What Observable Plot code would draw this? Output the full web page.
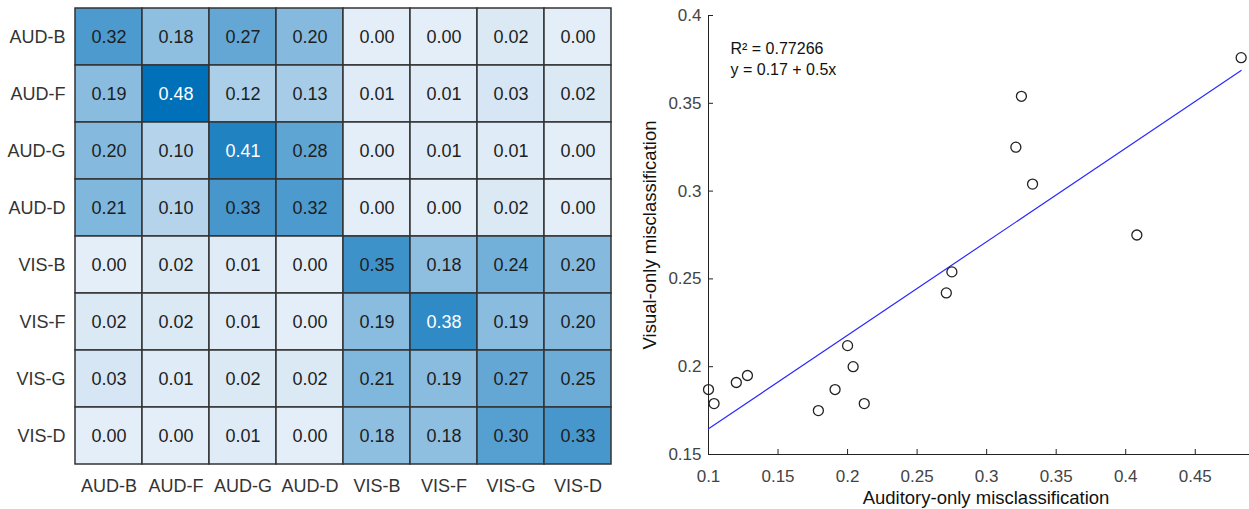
<!DOCTYPE html>
<html>
<head>
<meta charset="utf-8">
<script src="https://cdn.jsdelivr.net/npm/d3@7"></script>
<script src="https://cdn.jsdelivr.net/npm/@observablehq/plot@0.6"></script>
<style>
  html, body { margin: 0; padding: 0; background: #fff; overflow: hidden; }
  #wrap { position: relative; width: 1249px; height: 509px; overflow: hidden; }
  #heat { position: absolute; left: -12px; top: 0; }
  #scatter { position: absolute; left: 630px; top: 0; }
</style>
</head>
<body>
<div id="wrap"><div id="heat"></div><div id="scatter"></div></div>
<script>
// Stimulus classes (rows = presented, columns = responded)
const classes = ["AUD-B", "AUD-F", "AUD-G", "AUD-D", "VIS-B", "VIS-F", "VIS-G", "VIS-D"];

// Confusion proportions, one row per class
const rowAUD_B = [0.32, 0.18, 0.27, 0.20, 0.00, 0.00, 0.02, 0.00];
const rowAUD_F = [0.19, 0.48, 0.12, 0.13, 0.01, 0.01, 0.03, 0.02];
const rowAUD_G = [0.20, 0.10, 0.41, 0.28, 0.00, 0.01, 0.01, 0.00];
const rowAUD_D = [0.21, 0.10, 0.33, 0.32, 0.00, 0.00, 0.02, 0.00];
const rowVIS_B = [0.00, 0.02, 0.01, 0.00, 0.35, 0.18, 0.24, 0.20];
const rowVIS_F = [0.02, 0.02, 0.01, 0.00, 0.19, 0.38, 0.19, 0.20];
const rowVIS_G = [0.03, 0.01, 0.02, 0.02, 0.21, 0.19, 0.27, 0.25];
const rowVIS_D = [0.00, 0.00, 0.01, 0.00, 0.18, 0.18, 0.30, 0.33];
const confusion = [rowAUD_B, rowAUD_F, rowAUD_G, rowAUD_D, rowVIS_B, rowVIS_F, rowVIS_G, rowVIS_D];

// Per-participant misclassification rates
const auditoryMiscl = [0.100, 0.104, 0.120, 0.128, 0.179, 0.191, 0.200, 0.204,
                       0.212, 0.271, 0.275, 0.321, 0.325, 0.333, 0.408, 0.483];
const visualMiscl   = [0.187, 0.179, 0.191, 0.195, 0.175, 0.187, 0.212, 0.200,
                       0.179, 0.242, 0.254, 0.325, 0.354, 0.304, 0.275, 0.376];

// Axis ticks of the scatter plot
const xTicks = [0.1, 0.15, 0.2, 0.25, 0.3, 0.35, 0.4, 0.45];
const yTicks = [0.15, 0.2, 0.25, 0.3, 0.35, 0.4];

const fitText = "R\u00B2 = 0.77266\ny = 0.17 + 0.5x";

const font = "'Liberation Sans', Arial, Helvetica, sans-serif";
const fmt = d => String(+d.toFixed(2));

// ---- Confusion heatmap ----
const cells = confusion.flatMap((row, i) => row.map((v, j) => ({row: classes[i], col: classes[j], v})));

const heat = Plot.plot({
  width: 626,
  height: 509,
  marginLeft: 85,
  marginRight: 1,
  marginTop: 6,
  marginBottom: 43,
  style: {fontFamily: font, fontSize: "18px", color: "#333", background: "transparent", overflow: "visible"},
  x: {domain: classes, padding: 0, label: null, tickSize: 0, tickPadding: 13},
  y: {domain: classes, padding: 0, label: null, tickSize: 0, tickPadding: 8},
  color: {type: "linear", domain: [0, 0.48], range: ["#e4eef8", "#0070b9"]},
  marks: [
    Plot.cell(cells, {x: "col", y: "row", fill: "v", stroke: "#333", strokeWidth: 1.5}),
    Plot.text(cells, {filter: d => d.v <= 0.36, x: "col", y: "row", text: d => d.v.toFixed(2), fill: "#1e1e1e", fontSize: 18}),
    Plot.text(cells, {filter: d => d.v > 0.36, x: "col", y: "row", text: d => d.v.toFixed(2), fill: "#ffffff", fontSize: 18})
  ]
});
document.getElementById("heat").appendChild(heat);

// ---- Auditory vs visual misclassification scatter ----
const pts = auditoryMiscl.map((x, i) => ({x, y: visualMiscl[i]}));

const scatter = Plot.plot({
  width: 619,
  height: 509,
  marginLeft: 78,
  marginRight: 0,
  marginTop: 15,
  marginBottom: 55,
  style: {fontFamily: font, fontSize: "17px", color: "#333", background: "transparent", overflow: "visible"},
  x: {domain: [0.1, 0.489]},
  y: {domain: [0.15, 0.4]},
  marks: [
    Plot.ruleX([0.1], {stroke: "#222"}),
    Plot.ruleY([0.15], {stroke: "#222"}),
    Plot.axisX({ticks: xTicks, tickFormat: fmt, tickSize: -5, tickPadding: 20, label: null, stroke: "#222", fill: "#444"}),
    Plot.axisY({ticks: yTicks, tickFormat: fmt, tickSize: -5, tickPadding: 12, label: null, stroke: "#222", fill: "#444"}),
    Plot.linearRegressionY(pts, {x: "x", y: "y", stroke: "#2a2aff", strokeWidth: 1.2, ci: 0}),
    Plot.dot(pts, {x: "x", y: "y", r: 5, stroke: "#222", strokeWidth: 1.3, fill: "none"}),
    Plot.text([fitText], {frameAnchor: "top-left", dx: 22, dy: 24, textAnchor: "start", lineAnchor: "top", lineHeight: 1.3, fontSize: 16, fill: "#111"}),
    Plot.text(["Auditory-only misclassification"], {frameAnchor: "bottom", dx: 7, dy: 44, lineAnchor: "middle", fontSize: 18.5, fill: "#111"}),
    Plot.text(["Visual-only misclassification"], {frameAnchor: "left", dx: -58, rotate: -90, textAnchor: "middle", fontSize: 18.5, fill: "#111"})
  ]
});
document.getElementById("scatter").appendChild(scatter);
</script>
</body>
</html>
